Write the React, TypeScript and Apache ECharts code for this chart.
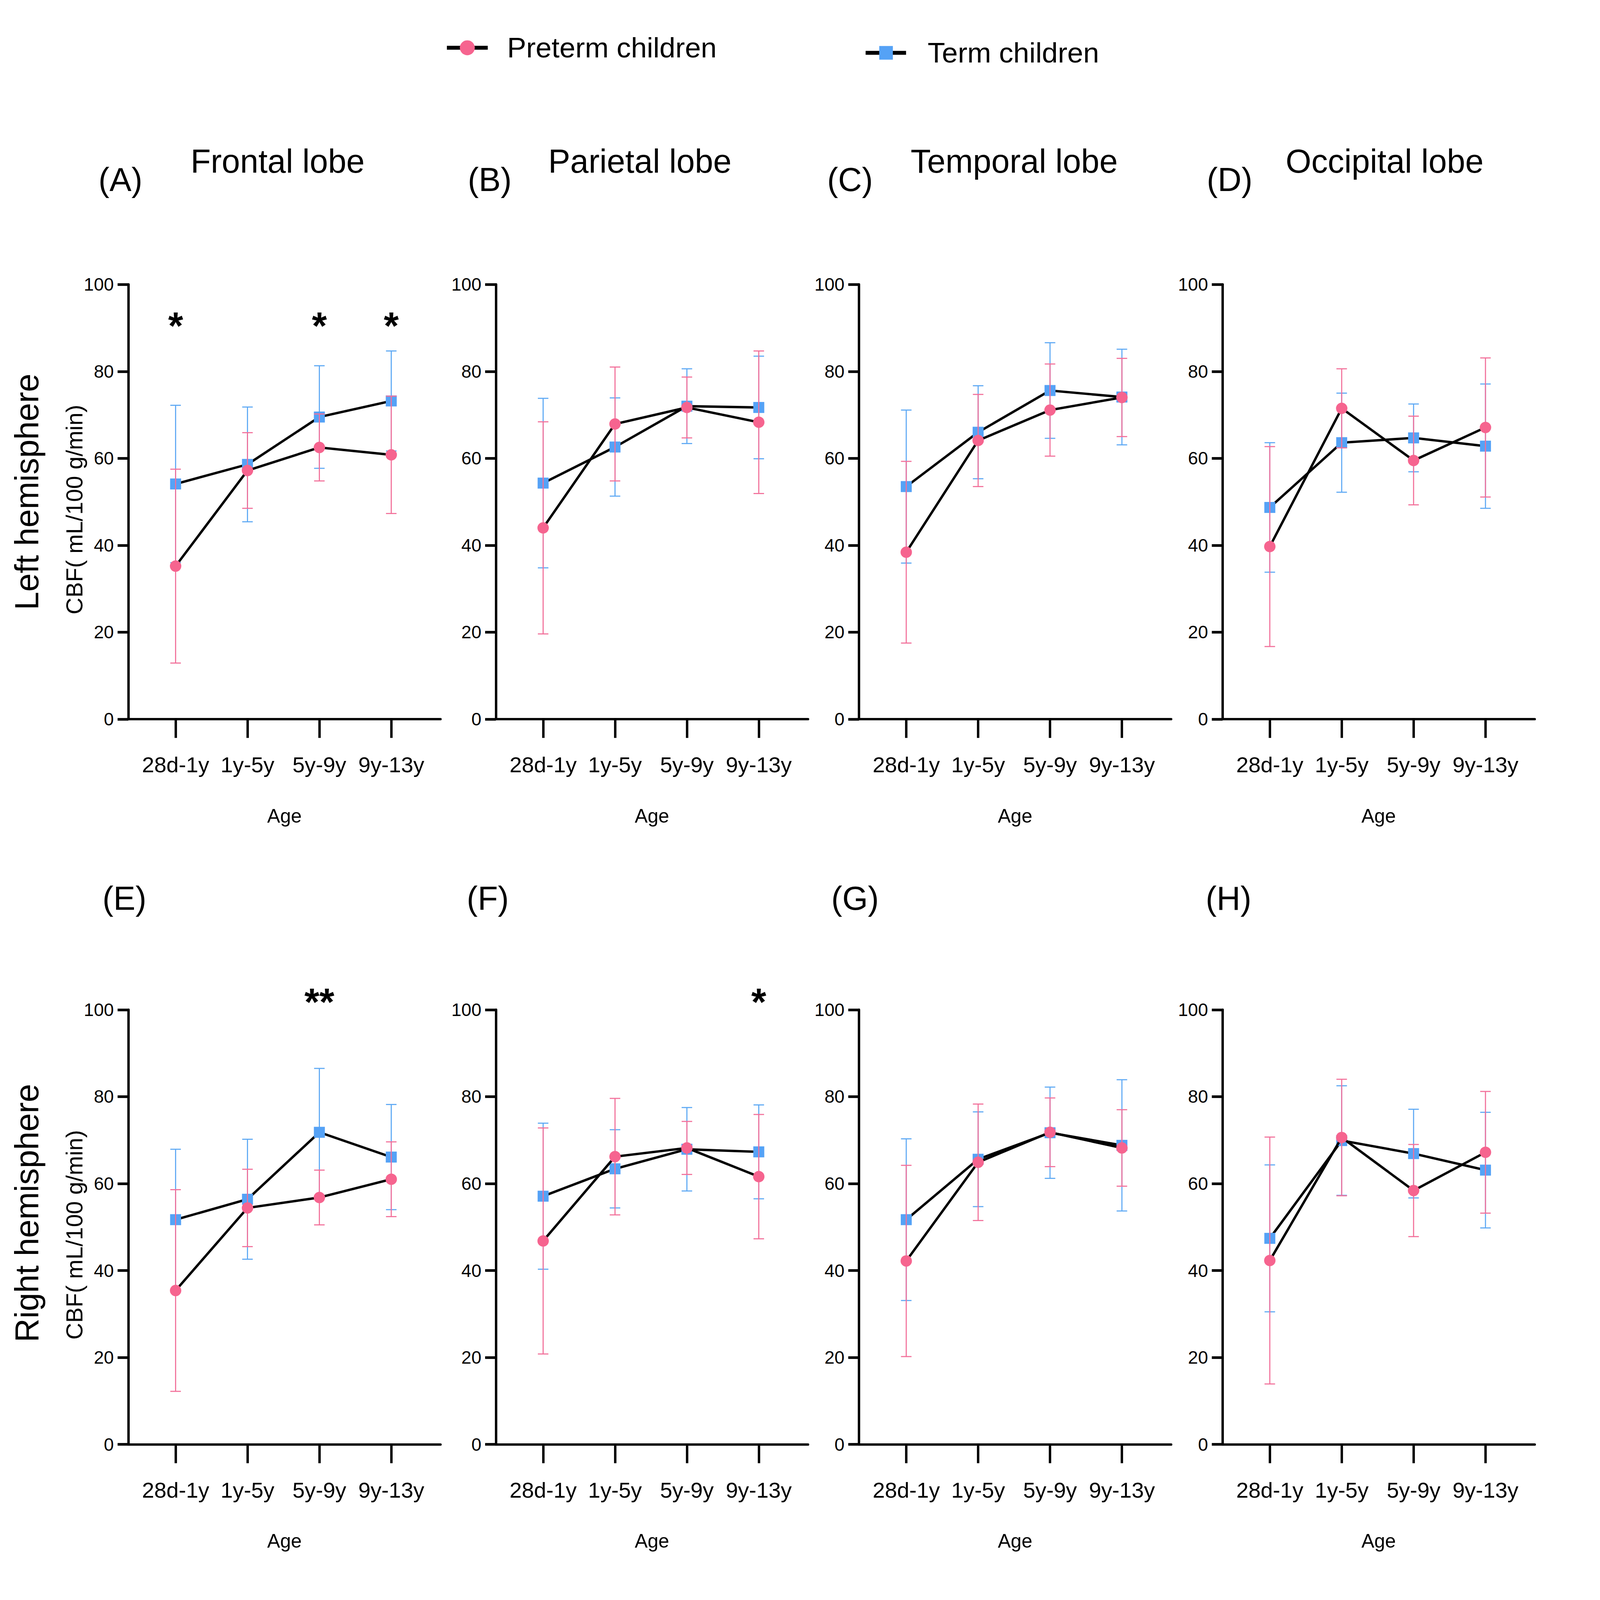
import React, { useEffect, useRef, useState } from 'react';
import * as echarts from 'echarts';

// ---------- data ----------
const ageGroups = ['28d-1y', '1y-5y', '5y-9y', '9y-13y'];
const panelLetters = ['(A)', '(B)', '(C)', '(D)', '(E)', '(F)', '(G)', '(H)'];
const lobeTitles = ['Frontal lobe', 'Parietal lobe', 'Temporal lobe', 'Occipital lobe'];
const hemispheres = ['Left hemisphere', 'Right hemisphere'];
const seriesNames = ['Preterm children', 'Term children'];
const yAxisName = 'CBF( mL/100 g/min)';
const xAxisName = 'Age';

// rows: A..H panels; columns: age groups
const pretermMean = [
  [35.2, 57.2, 62.5, 60.8],
  [44.0, 67.9, 71.7, 68.3],
  [38.4, 64.1, 71.1, 74.0],
  [39.7, 71.5, 59.5, 67.1],
  [35.4, 54.4, 56.8, 61.0],
  [46.8, 66.2, 68.2, 61.6],
  [42.2, 64.9, 71.8, 68.2],
  [42.3, 70.6, 58.4, 67.2],
];
const pretermSD = [
  [22.3, 8.7, 7.7, 13.5],
  [24.4, 13.1, 7.0, 16.4],
  [20.9, 10.6, 10.6, 9.0],
  [23.0, 9.1, 10.2, 16.0],
  [23.2, 8.9, 6.3, 8.6],
  [26.0, 13.4, 6.1, 14.3],
  [22.0, 13.4, 7.9, 8.8],
  [28.4, 13.4, 10.6, 14.0],
];
const termMean = [
  [54.1, 58.6, 69.5, 73.2],
  [54.3, 62.6, 72.0, 71.7],
  [53.5, 66.0, 75.6, 74.1],
  [48.7, 63.6, 64.7, 62.8],
  [51.7, 56.4, 71.8, 66.1],
  [57.1, 63.4, 67.9, 67.3],
  [51.7, 65.6, 71.7, 68.8],
  [47.4, 69.9, 66.9, 63.1],
];
const termSD = [
  [18.1, 13.2, 11.8, 11.5],
  [19.5, 11.3, 8.6, 11.8],
  [17.6, 10.7, 11.0, 11.0],
  [14.9, 11.4, 7.8, 14.3],
  [16.2, 13.8, 14.7, 12.1],
  [16.8, 9.0, 9.6, 10.8],
  [18.6, 10.9, 10.5, 15.1],
  [16.9, 12.6, 10.2, 13.3],
];
const significance = [
  ['*', '', '*', '*'],
  ['', '', '', ''],
  ['', '', '', ''],
  ['', '', '', ''],
  ['', '', '**', ''],
  ['', '', '', '*'],
  ['', '', '', ''],
  ['', '', '', ''],
];

// ---------- layout / style (reference pixel units, scaled at runtime) ----------
const W = 7279;
const H = 4421;
const FONT = "'Liberation Sans', Arial, Helvetica, sans-serif";
const gridLefts = [584, 2256, 3908, 5562];
const gridTops = [786, 2790];
const gridW = 1420;
const gridH = 1201;
const xMin = -0.657;
const xMax = 3.685;
const PINK = '#F6648F';
const PINK_ERR = '#F2709A';
const BLUE = '#55A2F6';
const BLUE_ERR = '#5EA9F4';

function buildOption(sx: number, sy: number) {
  const X = (v: number) => v * sx;
  const Y = (v: number) => v * sy;
  const F = (v: number) => v * Math.min(sx, sy);
  const grid: any[] = [];
  const xAxis: any[] = [];
  const yAxis: any[] = [];
  const series: any[] = [];
  const graphic: any[] = [];

  const errRender = (color: string) => (params: any, api: any) => {
    const x = api.value(0);
    const m = api.value(1);
    const sd = api.value(2);
    const top = api.coord([x, m + sd]);
    const bot = api.coord([x, m - sd]);
    const hw = X(24);
    const st = { stroke: color, lineWidth: F(5) };
    return {
      type: 'group',
      children: [
        { type: 'line', shape: { x1: top[0], y1: top[1], x2: bot[0], y2: bot[1] }, style: st },
        { type: 'line', shape: { x1: top[0] - hw, y1: top[1], x2: top[0] + hw, y2: top[1] }, style: st },
        { type: 'line', shape: { x1: bot[0] - hw, y1: bot[1], x2: bot[0] + hw, y2: bot[1] }, style: st },
      ],
    };
  };

  const xPix = (col: number, idx: number) => gridLefts[col] + ((idx - xMin) / (xMax - xMin)) * gridW;

  const txt = (text: string, x: number, y: number, size: number, align = 'center', rotation = 0, weight = 'normal') => ({
    type: 'text',
    x: X(x),
    y: Y(y),
    rotation,
    style: {
      text,
      fontSize: F(size),
      fontFamily: FONT,
      fontWeight: weight,
      fill: '#000',
      textAlign: align,
      align,
      textVerticalAlign: 'middle',
      verticalAlign: 'middle',
    },
  });

  for (let i = 0; i < 8; i++) {
    const r = Math.floor(i / 4);
    const c = i % 4;
    grid.push({
      left: X(gridLefts[c]),
      top: Y(gridTops[r]),
      width: X(gridW),
      height: Y(gridH),
      containLabel: false,
      outerBoundsMode: 'none',
    });
    xAxis.push({
      gridIndex: i,
      type: 'value',
      min: xMin,
      max: xMax,
      axisLine: { show: true, onZero: false, lineStyle: { color: '#000', width: F(11) } },
      axisTick: { show: true, length: Y(52), customValues: [0, 1, 2, 3], lineStyle: { color: '#000', width: F(11) } },
      axisLabel: {
        customValues: [0, 1, 2, 3],
        formatter: (v: number) => ageGroups[Math.round(v)] ?? '',
        fontSize: F(100),
        color: '#000',
        margin: Y(96),
        fontFamily: FONT,
      },
      splitLine: { show: false },
      name: xAxisName,
      nameLocation: 'middle',
      nameGap: Y(240),
      nameTextStyle: { fontSize: F(88), color: '#000', fontFamily: FONT },
    });
    yAxis.push({
      gridIndex: i,
      type: 'value',
      min: 0,
      max: 100,
      interval: 20,
      axisLine: { show: true, onZero: false, lineStyle: { color: '#000', width: F(11) } },
      axisTick: { show: true, length: X(49), lineStyle: { color: '#000', width: F(12) } },
      axisLabel: { fontSize: F(82), color: '#000', margin: X(66), fontFamily: FONT },
      splitLine: { show: false },
    });

    const termErr = termMean[i].map((m, k) => [k, m, termSD[i][k]]);
    const preErr = pretermMean[i].map((m, k) => [k, m, pretermSD[i][k]]);
    series.push({
      type: 'custom',
      name: seriesNames[1] + ' SD',
      xAxisIndex: i,
      yAxisIndex: i,
      renderItem: errRender(BLUE_ERR),
      encode: { x: 0, y: 1 },
      data: termErr,
      z: 2,
      silent: true,
    });
    series.push({
      type: 'line',
      name: seriesNames[1],
      xAxisIndex: i,
      yAxisIndex: i,
      data: termMean[i].map((m, k) => [k, m]),
      symbol: 'rect',
      symbolSize: F(50),
      itemStyle: { color: BLUE },
      lineStyle: { color: '#000', width: F(11) },
      z: 3,
    });
    series.push({
      type: 'custom',
      name: seriesNames[0] + ' SD',
      xAxisIndex: i,
      yAxisIndex: i,
      renderItem: errRender(PINK_ERR),
      encode: { x: 0, y: 1 },
      data: preErr,
      z: 4,
      silent: true,
    });
    series.push({
      type: 'line',
      name: seriesNames[0],
      xAxisIndex: i,
      yAxisIndex: i,
      data: pretermMean[i].map((m, k) => [k, m]),
      symbol: 'circle',
      symbolSize: F(52),
      itemStyle: { color: PINK },
      lineStyle: { color: '#000', width: F(11) },
      z: 5,
    });

    significance[i].forEach((mark, k) => {
      if (!mark) return;
      graphic.push(txt(mark, xPix(c, k), r === 0 ? 900 : 2768, 175, 'center', 0, 'bold'));
    });
  }

  const letterX = [548, 2228, 3867, 5594, 566, 2219, 3890, 5589];
  panelLetters.forEach((l, i) => graphic.push(txt(l, letterX[i], i < 4 ? 497 : 2483, 150)));
  const titleX = [1263, 2911, 4614, 6299];
  lobeTitles.forEach((t, i) => graphic.push(txt(t, titleX[i], 446, 150)));
  graphic.push(txt(hemispheres[0], 122, 1359, 150, 'center', Math.PI / 2));
  graphic.push(txt(hemispheres[1], 122, 3352, 150, 'center', Math.PI / 2));
  graphic.push(txt(yAxisName, 338, 1408, 106, 'center', Math.PI / 2));
  graphic.push(txt(yAxisName, 338, 3412, 106, 'center', Math.PI / 2));

  // legend
  graphic.push({ type: 'line', shape: { x1: X(2033), y1: Y(132), x2: X(2219), y2: Y(132) }, style: { stroke: '#000', lineWidth: F(18) } });
  graphic.push({ type: 'circle', shape: { cx: X(2126), cy: Y(132), r: F(34) }, style: { fill: PINK } });
  graphic.push(txt(seriesNames[0], 2307, 132, 130, 'left'));
  graphic.push({ type: 'line', shape: { x1: X(3938), y1: Y(146), x2: X(4122), y2: Y(146) }, style: { stroke: '#000', lineWidth: F(18) } });
  graphic.push({
    type: 'rect',
    shape: { x: X(4031) - F(31), y: Y(146) - F(31), width: F(62), height: F(62) },
    style: { fill: BLUE },
  });
  graphic.push(txt(seriesNames[1], 4220, 146, 130, 'left'));

  return {
    animation: false,
    backgroundColor: '#fff',
    textStyle: { fontFamily: FONT },
    grid,
    xAxis,
    yAxis,
    series,
    graphic,
  };
}

export default function App() {
  const ref = useRef<HTMLDivElement>(null);
  const [size] = useState(() => {
    const vw = typeof window !== 'undefined' && window.innerWidth ? window.innerWidth : W;
    const vh = typeof window !== 'undefined' && window.innerHeight ? window.innerHeight : H;
    return { sx: vw / W, sy: vh / H, w: Math.floor(vw), h: Math.floor(vh) };
  });
  useEffect(() => {
    if (!ref.current) return;
    const chart = echarts.init(ref.current, undefined, { renderer: 'svg', width: size.w, height: size.h });
    chart.setOption(buildOption(size.sx, size.sy) as any);
    return () => chart.dispose();
  }, [size]);
  return (
    <div
      ref={ref}
      style={{ position: 'absolute', left: 0, top: 0, width: size.w, height: size.h, background: '#fff' }}
    />
  );
}
